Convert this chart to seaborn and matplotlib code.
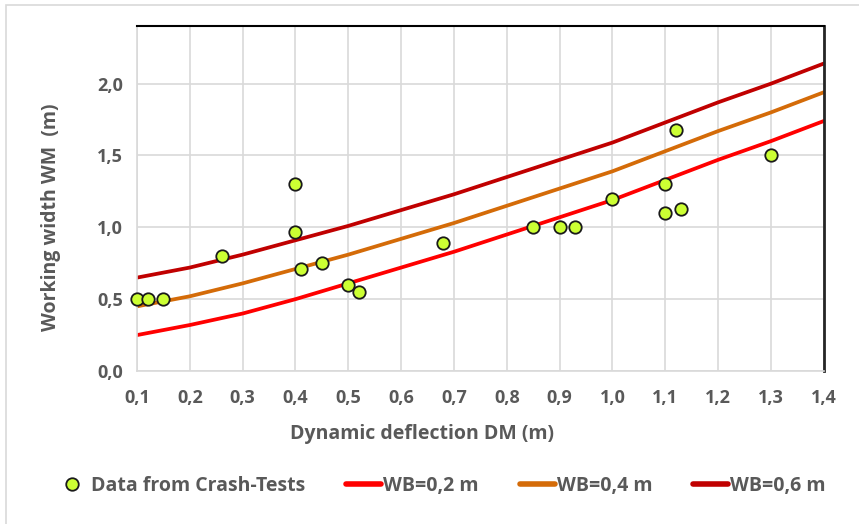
import numpy as np
import pandas as pd
import seaborn as sns
import matplotlib.pyplot as plt
from matplotlib.patches import Rectangle
from matplotlib.lines import Line2D

# crash test points (DM, WM)
dm_tests = [0.10, 0.12, 0.15, 0.26, 0.40, 0.40, 0.41, 0.45, 0.50, 0.52,
            0.68, 0.85, 0.90, 0.93, 1.00, 1.10, 1.10, 1.12, 1.13, 1.30]
wm_tests = [0.50, 0.50, 0.50, 0.80, 1.30, 0.97, 0.71, 0.75, 0.60, 0.55,
            0.89, 1.00, 1.00, 1.00, 1.20, 1.30, 1.10, 1.68, 1.13, 1.50]

# curves
dm_curve = [0.1, 0.2, 0.3, 0.4, 0.5, 0.6, 0.7, 0.8, 0.9, 1.0, 1.1, 1.2, 1.3, 1.4]
wb02 = [0.25, 0.32, 0.40, 0.50, 0.61, 0.72, 0.83, 0.95, 1.07, 1.19, 1.33, 1.47, 1.60, 1.74]
wb04 = [0.45, 0.52, 0.61, 0.71, 0.81, 0.92, 1.03, 1.15, 1.27, 1.39, 1.53, 1.67, 1.80, 1.94]
wb06 = [0.65, 0.72, 0.81, 0.91, 1.01, 1.12, 1.23, 1.35, 1.47, 1.59, 1.73, 1.87, 2.00, 2.14]

x_ticks = [0.1, 0.2, 0.3, 0.4, 0.5, 0.6, 0.7, 0.8, 0.9, 1.0, 1.1, 1.2, 1.3, 1.4]
y_ticks = [0.0, 0.5, 1.0, 1.5, 2.0]

sns.set_theme(style="white")
plt.rcParams['font.family'] = ['Open Sans', 'DejaVu Sans']
grey = '#595959'

fig = plt.figure(figsize=(8.59, 5.24), dpi=100)
ax = fig.add_axes([0.1595, 0.292, 0.7995, 0.658])

# outer chart border (only top/left visible)
fig.patches.append(Rectangle((0.007, -0.05), 1.2, 1.04, transform=fig.transFigure,
                             fill=False, edgecolor='#d9d9d9', linewidth=1.2))

curves = pd.DataFrame({'DM': dm_curve * 3,
                       'WM': wb02 + wb04 + wb06,
                       'WB': ['WB=0,2 m'] * 14 + ['WB=0,4 m'] * 14 + ['WB=0,6 m'] * 14})
sns.lineplot(data=curves, x='DM', y='WM', hue='WB', ax=ax, linewidth=2.7,
             palette=['#ff0000', '#d46b08', '#c00000'], legend=False, zorder=2)

sns.scatterplot(x=dm_tests, y=wm_tests, ax=ax, s=80, color='#ccff33',
                edgecolor='#1a1a1a', linewidth=1.3, zorder=3, clip_on=False)

ax.set_xlim(0.1, 1.4)
ax.set_ylim(0, 2.4)
ax.set_xticks(x_ticks)
ax.set_yticks(y_ticks)
ax.set_xticklabels([f"{v:.1f}".replace('.', ',') for v in x_ticks])
ax.set_yticklabels([f"{v:.1f}".replace('.', ',') for v in y_ticks])
ax.grid(True, color='#d9d9d9', linewidth=1.2)
ax.set_axisbelow(True)
ax.tick_params(axis='both', colors=grey, labelsize=13, length=0)
ax.tick_params(axis='x', pad=13)
ax.tick_params(axis='y', pad=10)
for lab in ax.get_xticklabels() + ax.get_yticklabels():
    lab.set_fontweight('bold')

for side in ['left', 'bottom']:
    ax.spines[side].set_color('#d9d9d9')
    ax.spines[side].set_linewidth(1.2)
ax.spines['top'].set_color('black')
ax.spines['top'].set_linewidth(1.5)
ax.spines['right'].set_color('#262626')
ax.spines['right'].set_linewidth(2)

ax.set_xlabel('Dynamic deflection DM (m)', color=grey, fontsize=14, fontweight='bold',
              labelpad=12, x=0.415)
ax.set_ylabel('Working width WM  (m)', color=grey, fontsize=14, fontweight='bold',
              labelpad=26, y=0.446)

# legend
pt_handle = Line2D([], [], linestyle='none', marker='o', markersize=9,
                   markerfacecolor='#ccff33', markeredgecolor='#1a1a1a', markeredgewidth=1.3)
line_handles = [Line2D([], [], color=c, linewidth=4) for c in ['#ff0000', '#d46b08', '#c00000']]
leg = fig.legend([pt_handle] + line_handles,
                 ['Data from Crash-Tests', 'WB=0,2 m', 'WB=0,4 m', 'WB=0,6 m'],
                 loc='center', bbox_to_anchor=(0.512, 0.072), ncol=4, frameon=False,
                 fontsize=14, handlelength=1.8, handletextpad=0.1, columnspacing=2.1)
for t in leg.get_texts():
    t.set_color(grey)
    t.set_fontweight('bold')

fig.savefig('out.png', dpi=100)
